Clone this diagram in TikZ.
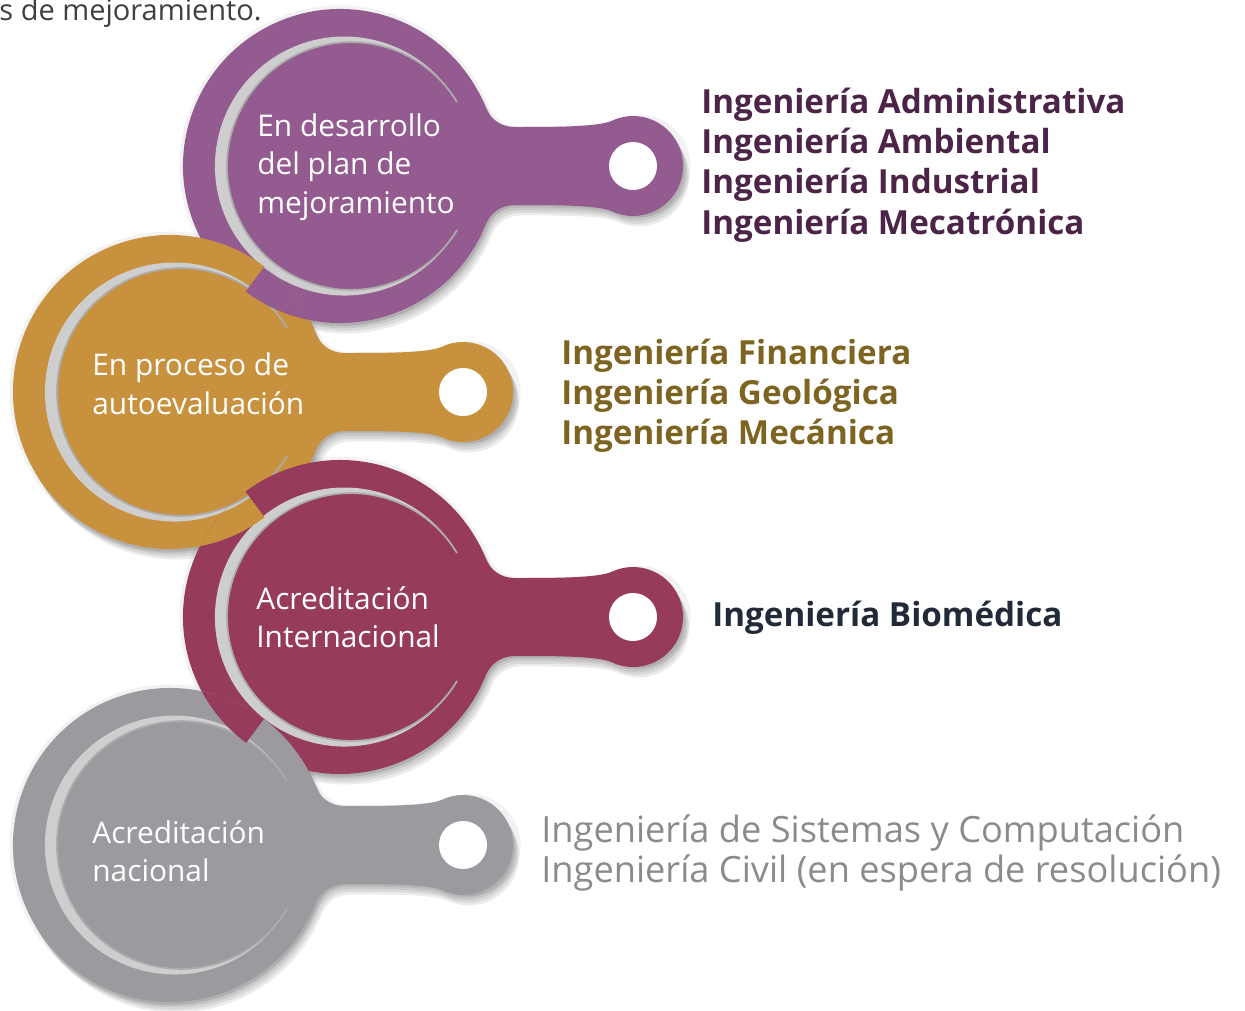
\documentclass[tikz,border=0pt]{standalone}
\usepackage{fontspec}
\setmainfont{Open Sans}
\IfFontExistsTF{Open Sans SemiBold}{\newfontfamily\semib{Open Sans SemiBold}}{\newcommand\semib{\bfseries}}
\definecolor{purpleC}{RGB}{147,91,143}
\definecolor{orangeC}{RGB}{200,145,61}
\definecolor{crimsonC}{RGB}{150,59,91}
\definecolor{grayC}{RGB}{156,153,159}
\definecolor{crescC}{RGB}{206,206,206}
\definecolor{crescD}{RGB}{172,172,172}
\definecolor{purpleT}{RGB}{75,36,72}
\definecolor{oliveT}{RGB}{125,100,33}
\definecolor{navyT}{RGB}{33,42,55}
\definecolor{grayT}{RGB}{139,139,139}
\definecolor{topT}{RGB}{63,63,63}
\newcommand{\keypath}{(22:157) .. controls (150.1,47.7) and (160,39) .. (175,39) .. controls (215,39) and (258.3,39) .. (271.9,45.3) arc[start angle=115, end angle=-115, radius=50] .. controls (258.3,-39) and (215,-39) .. (175,-39) .. controls (160,-39) and (150.1,-47.7) .. (-22:157) arc[start angle=-22, end angle=-338, radius=157] -- cycle}
\newcommand{\crescpath}{(117,64) arc[start angle=29.63, end angle=330.37, radius=129.5] arc[start angle=328.9, end angle=31.1, radius=123.9] -- cycle}
\newcommand{\crescinner}{(117,-64) arc[start angle=328.9, end angle=31.1, radius=123.9]}
\newcommand{\keyshadow}[2]{%
  \begin{scope}[shift={(#1,-#2)}]
    \fill[black,opacity=0.05] [scale=1.022] \keypath;
    \foreach \s in {1,...,4}{\fill[black,opacity=0.08] [shift={(\s*1.5,-\s*2.6)}] \keypath;}
  \end{scope}}
\newcommand{\keyshape}[3]{%
  \begin{scope}[shift={(#1,-#2)}]
    \fill[#3] \keypath;
    \fill[crescC] \crescpath;
    \draw[crescD,line width=1pt] \crescinner;
    \fill[white] (293,0) circle[radius=24];
  \end{scope}}
\newcommand{\discpart}[3]{%
  \begin{scope}[shift={(#1,-#2)}]
    \fill[#3] (0,0) circle[radius=157];
    \fill[crescC] \crescpath;
    \draw[crescD,line width=1pt] \crescinner;
  \end{scope}}
\tikzset{
  lbl/.style={anchor=west, align=left, text=white, inner sep=0pt, font=\fontsize{17}{21.9}\selectfont},
  rt/.style={anchor=west, align=left, inner sep=0pt, font=\semib\fontsize{18.9}{22.9}\selectfont},
  rtg/.style={anchor=west, align=left, inner sep=0pt, font=\fontsize{20.6}{22.9}\selectfont}
}
\begin{document}
\begin{tikzpicture}[x=0.02cm,y=0.02cm]
\useasboundingbox (0,0) rectangle (1245,-1011);
% shadows
\keyshadow{340}{166}
\keyshadow{170}{392}
\keyshadow{340}{617}
\keyshadow{170}{845}
% shapes
\keyshape{340}{166}{purpleC}
\keyshape{170}{392}{orangeC}
% purple over orange in lower-right half of lens
\begin{scope}
  \clip (435,-39) -- (75,-519) -- (395,-759) -- (755,-279) -- cycle;
  \clip (170,-392) circle[radius=157];
  \discpart{340}{166}{purpleC}
\end{scope}
\keyshape{340}{617}{crimsonC}
% orange over crimson in lower-left half of lens
\begin{scope}
  \clip (74.1,-265.1) -- (435.9,-743.9) -- (116.7,-985.1) -- (-245.1,-506.3) -- cycle;
  \clip (340,-617) circle[radius=157];
  \discpart{170}{392}{orangeC}
\end{scope}
\keyshape{170}{845}{grayC}
% crimson over gray in upper-left half of lens
\begin{scope}
  \clip (434.4,-490.4) -- (75.6,-971.6) -- (-245.2,-732.4) -- (113.6,-251.2) -- cycle;
  \clip (170,-845) circle[radius=157];
  \discpart{340}{617}{crimsonC}
\end{scope}
% texts
\node[anchor=base east, inner sep=0pt, text=topT, font=\fontsize{16.5}{19}\selectfont] (top) at (262,-20) {s de mejoramiento.};
\node[lbl] (l1) at (257,-167) {En desarrollo\\del plan de\\mejoramiento};
\node[lbl] (l2) at (92,-384) {En proceso de\\autoevaluación};
\node[lbl] (l3) at (256,-617) {Acreditación\\Internacional};
\node[lbl] (l4) at (92,-851) {Acreditación\\nacional};
\node[rt, text=purpleT] (r1) at (701,-165) {Ingeniería Administrativa\\Ingeniería Ambiental\\Ingeniería Industrial\\Ingeniería Mecatrónica};
\node[rt, text=oliveT] (r2) at (561,-395.5) {Ingeniería Financiera\\Ingeniería Geológica\\Ingeniería Mecánica};
\node[rt, text=navyT] (r3) at (712,-618) {Ingeniería Biomédica};
\node[rtg, text=grayT] (r4) at (541,-853) {Ingeniería de Sistemas y Computación\\Ingeniería Civil (en espera de resolución)};
\end{tikzpicture}
\end{document}
